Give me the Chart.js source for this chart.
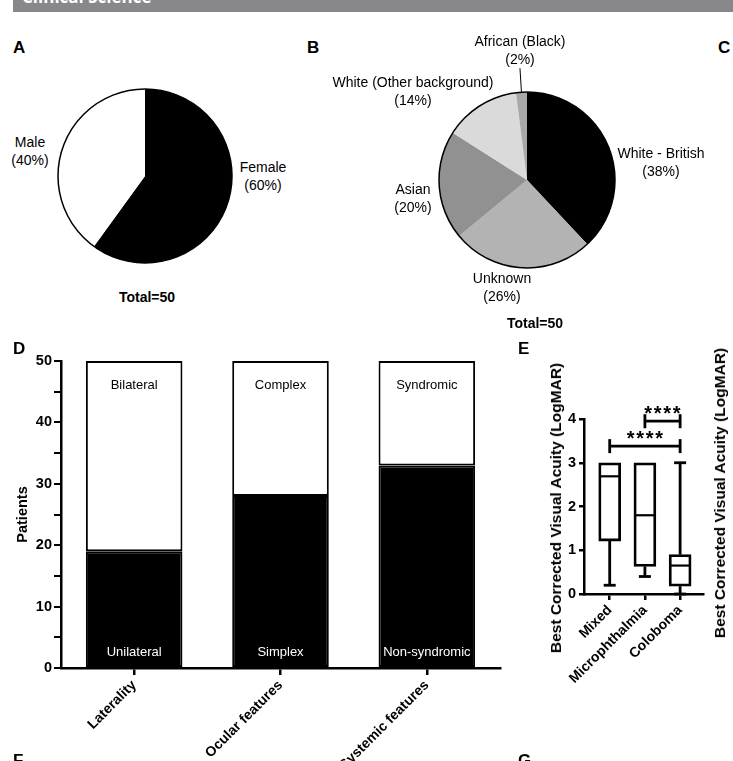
<!DOCTYPE html>
<html>
<head>
<meta charset="utf-8">
<script src="https://cdn.jsdelivr.net/npm/chart.js@4.4.1/dist/chart.umd.min.js"></script>
<style>
  body { margin: 0; background: #fff; width: 733px; height: 761px; overflow: hidden; position: relative;
         font-family: "Liberation Sans", Arial, sans-serif; color: #000; }
  canvas { position: absolute; }
  #banner { position: absolute; left: 13px; top: 0; width: 720px; height: 12px; background: #88888c; overflow: hidden; }
  #banner span { position: absolute; left: 9px; top: -12px; line-height: 17px; color: #fff; font-weight: bold;
                 font-size: 17px; font-family: "Open Sans", sans-serif; white-space: nowrap; }
  .lbl { position: absolute; transform: translate(-50%, -50%); text-align: center; font-size: 14px;
         line-height: 18px; white-space: nowrap; }
  .total { position: absolute; transform: translate(-50%, -50%); font-size: 14px; font-weight: bold; white-space: nowrap; }
  .letter { position: absolute; font-weight: bold; font-size: 17px; line-height: 17px; }
  .vtitle { position: absolute; font-weight: bold; font-size: 15.5px; white-space: nowrap;
            transform: translate(-50%, -50%) rotate(-90deg); }
</style>
</head>
<body>
<div id="banner"><span>Clinical Science</span></div>

<canvas id="pieA" width="180" height="180" style="left:55px;top:86px"></canvas>
<canvas id="pieB" width="240" height="240" style="left:407px;top:60px"></canvas>
<canvas id="barD" width="515" height="421" style="left:0;top:340px"></canvas>
<canvas id="boxE" width="200" height="300" style="left:520px;top:395px"></canvas>

<div class="letter" style="left:13px;top:39px">A</div>
<div class="letter" style="left:307px;top:39px">B</div>
<div class="letter" style="left:718px;top:39px">C</div>
<div class="letter" style="left:13px;top:340px">D</div>
<div class="letter" style="left:518px;top:340px">E</div>
<div class="letter" style="left:13px;top:752px">F</div>
<div class="letter" style="left:518px;top:752px">G</div>

<div class="vtitle" style="left:556px;top:508px">Best Corrected Visual Acuity (LogMAR)</div>
<div class="vtitle" style="left:720px;top:493px">Best Corrected Visual Acuity (LogMAR)</div>

<script>
// A - gender
const GENDER_LABELS = ["Female", "Male"];
const GENDER_COUNTS = [30, 20];

// B - ethnicity
const ETHNICITY_LABELS = ["White - British", "Unknown", "Asian", "White (Other background)", "African (Black)"];
const ETHNICITY_COUNTS = [19, 13, 10, 7, 1];

// D - clinical features
const FEATURE_CATEGORIES = ["Laterality", "Ocular features", "Systemic features"];
const LOWER_NAMES = ["Unilateral", "Simplex", "Non-syndromic"];
const LOWER_COUNTS = [19, 28, 33];
const UPPER_NAMES = ["Bilateral", "Complex", "Syndromic"];
const UPPER_COUNTS = [31, 22, 17];
const PATIENT_TICKS = [0, 10, 20, 30, 40, 50];

// E - visual acuity
const BCVA_GROUPS = ["Mixed", "Microphthalmia", "Coloboma"];
const BCVA_MIN = [0.2, 0.4, 0.0];
const BCVA_Q1 = [1.21, 0.63, 0.18];
const BCVA_MEDIAN = [2.69, 1.8, 0.65];
const BCVA_Q3 = [3.0, 3.0, 0.9];
const BCVA_MAX = [3.0, 3.0, 3.0];
const BCVA_TICKS = [0, 1, 2, 3, 4];
const SIG_PAIRS = [[0, 2], [1, 2]];
const SIG_LEVEL = [3.38, 3.95];
const SIG_MARKS = ["****", "****"];

Chart.defaults.color = "#000";
Chart.defaults.font.family = "'Liberation Sans', Arial, sans-serif";
Chart.defaults.animation = false;
Chart.defaults.events = [];
Chart.defaults.plugins.legend.display = false;
Chart.defaults.plugins.tooltip.enabled = false;

// where the pie labels sit on the page
const GENDER_LABEL_AT = [[263, 176], [30, 151]];
const ETHNICITY_LABEL_AT = [[661, 162], [502, 287], [413, 198], [413, 91], [520, 50]];

function addText(cls, html, x, y) {
  const d = document.createElement("div");
  d.className = cls;
  d.innerHTML = html;
  d.style.left = x + "px";
  d.style.top = y + "px";
  document.body.appendChild(d);
}

function pieLabels(names, counts, at, totalAt) {
  const total = counts.reduce((a, b) => a + b, 0);
  names.forEach((n, i) => {
    const pct = Math.round(counts[i] / total * 100);
    addText("lbl", n + "<br>(" + pct + "%)", at[i][0], at[i][1]);
  });
  addText("total", "Total=" + total, totalAt[0], totalAt[1]);
}

// outline round the pie, plus an optional leader line to a small slice
const pieOutline = {
  id: "pieOutline",
  afterDatasetsDraw(chart, args, opts) {
    const arcs = chart.getDatasetMeta(0).data;
    const a0 = arcs[0];
    const ctx = chart.ctx;
    ctx.save();
    ctx.strokeStyle = "#000";
    ctx.lineWidth = 1.5;
    ctx.beginPath();
    ctx.arc(a0.x, a0.y, a0.outerRadius, 0, Math.PI * 2);
    ctx.stroke();
    if (opts.leader != null) {
      const arc = arcs[opts.leader];
      const mid = (arc.startAngle + arc.endAngle) / 2;
      ctx.lineWidth = 1;
      ctx.beginPath();
      ctx.moveTo(arc.x + Math.cos(mid) * arc.outerRadius, arc.y + Math.sin(mid) * arc.outerRadius);
      ctx.lineTo(arc.x + Math.cos(mid) * (arc.outerRadius + 24), arc.y + Math.sin(mid) * (arc.outerRadius + 24));
      ctx.stroke();
    }
    ctx.restore();
  }
};

new Chart(document.getElementById("pieA"), {
  type: "pie",
  data: {
    labels: GENDER_LABELS,
    datasets: [{ data: GENDER_COUNTS, backgroundColor: ["#000", "#fff"], borderWidth: 0 }]
  },
  options: { responsive: false, layout: { padding: 3 }, plugins: { pieOutline: {} } },
  plugins: [pieOutline]
});
pieLabels(GENDER_LABELS, GENDER_COUNTS, GENDER_LABEL_AT, [147, 297]);

new Chart(document.getElementById("pieB"), {
  type: "pie",
  data: {
    labels: ETHNICITY_LABELS,
    datasets: [{
      data: ETHNICITY_COUNTS,
      backgroundColor: ["#000", "#b3b3b3", "#919191", "#dadada", "#a9a9a9"],
      borderWidth: 0
    }]
  },
  options: { responsive: false, layout: { padding: 32 }, plugins: { pieOutline: { leader: 4 } } },
  plugins: [pieOutline]
});
pieLabels(ETHNICITY_LABELS, ETHNICITY_COUNTS, ETHNICITY_LABEL_AT, [535, 323]);

// D - stacked bars with names written inside
const barNames = {
  id: "barNames",
  afterDatasetsDraw(chart) {
    const { ctx, scales: { x, y } } = chart;
    ctx.save();
    ctx.font = "13px 'Liberation Sans', Arial, sans-serif";
    ctx.textAlign = "center";
    ctx.textBaseline = "middle";
    FEATURE_CATEGORIES.forEach((c, i) => {
      const px = x.getPixelForValue(i);
      ctx.fillStyle = "#000";
      ctx.fillText(UPPER_NAMES[i], px, y.getPixelForValue(46));
      ctx.fillStyle = "#fff";
      ctx.fillText(LOWER_NAMES[i], px, y.getPixelForValue(2.6));
    });
    ctx.restore();
  }
};

new Chart(document.getElementById("barD"), {
  type: "bar",
  data: {
    labels: FEATURE_CATEGORIES,
    datasets: [
      { data: LOWER_COUNTS, backgroundColor: "#000", borderColor: "#000", borderWidth: 2 },
      { data: UPPER_COUNTS, backgroundColor: "#fff", borderColor: "#000", borderWidth: 2 }
    ]
  },
  options: {
    responsive: false,
    layout: { padding: { top: 21, right: 15, left: 0, bottom: 0 } },
    datasets: { bar: { categoryPercentage: 1, barPercentage: 0.66, borderSkipped: false } },
    scales: {
      x: {
        stacked: true,
        afterFit(s) { s.height = 93; },
        grid: { offset: false, drawOnChartArea: false, color: "#000", lineWidth: 2.5, tickLength: 7 },
        border: { color: "#000", width: 2.5 },
        ticks: { autoSkip: false, maxRotation: 45, minRotation: 45, padding: 2,
                 font: { size: 14, weight: "bold" } }
      },
      y: {
        stacked: true,
        min: 0, max: 50,
        afterFit(s) { s.width = 61; },
        afterBuildTicks(s) {
          const t = [];
          for (let v = 0; v <= 50; v += 5) t.push({ value: v });
          s.ticks = t;
        },
        grid: { drawOnChartArea: false, color: "#000", lineWidth: 2, tickLength: 7 },
        border: { color: "#000", width: 2.5 },
        ticks: { padding: 2, font: { size: 14.5, weight: "bold" },
                 callback: v => PATIENT_TICKS.includes(v) ? v : "" },
        title: { display: true, text: "Patients", font: { size: 14.5, weight: "bold" },
                 padding: { top: 14, bottom: 0 } }
      }
    }
  },
  plugins: [barNames]
});

// E - box plot: boxes are floating bars, whiskers/medians/brackets drawn on the scales
const boxExtras = {
  id: "boxExtras",
  afterDatasetsDraw(chart) {
    const { ctx, scales: { x, y } } = chart;
    const seg = (x1, y1, x2, y2) => { ctx.beginPath(); ctx.moveTo(x1, y1); ctx.lineTo(x2, y2); ctx.stroke(); };
    ctx.save();
    ctx.strokeStyle = "#000";
    ctx.lineCap = "butt";
    BCVA_GROUPS.forEach((g, i) => {
      const px = x.getPixelForValue(i + 1);
      ctx.lineWidth = 2.8;
      if (BCVA_MIN[i] < BCVA_Q1[i]) {
        seg(px, y.getPixelForValue(BCVA_Q1[i]), px, y.getPixelForValue(BCVA_MIN[i]));
        seg(px - 6, y.getPixelForValue(BCVA_MIN[i]), px + 6, y.getPixelForValue(BCVA_MIN[i]));
      }
      if (BCVA_MAX[i] > BCVA_Q3[i]) {
        seg(px, y.getPixelForValue(BCVA_Q3[i]), px, y.getPixelForValue(BCVA_MAX[i]));
        seg(px - 6, y.getPixelForValue(BCVA_MAX[i]), px + 6, y.getPixelForValue(BCVA_MAX[i]));
      }
      ctx.lineWidth = 2.2;
      seg(px - 10, y.getPixelForValue(BCVA_MEDIAN[i]), px + 10, y.getPixelForValue(BCVA_MEDIAN[i]));
    });
    ctx.font = "bold 20px 'Liberation Sans', Arial, sans-serif";
    ctx.textAlign = "center";
    ctx.textBaseline = "alphabetic";
    ctx.fillStyle = "#000";
    SIG_PAIRS.forEach((p, k) => {
      const x1 = x.getPixelForValue(p[0] + 1), x2 = x.getPixelForValue(p[1] + 1);
      const py = y.getPixelForValue(SIG_LEVEL[k]);
      ctx.lineWidth = 2.8;
      seg(x1, py, x2, py);
      seg(x1, py - 7, x1, py + 7);
      seg(x2, py - 7, x2, py + 7);
      const marks = SIG_MARKS[k].split("");
      const cx = (x1 + x2) / 2, step = 9.5;
      marks.forEach((m, j) => {
        ctx.fillText(m, cx + (j - (marks.length - 1) / 2) * step, py - 1.5);
      });
    });
    ctx.restore();
  }
};

new Chart(document.getElementById("boxE"), {
  type: "bar",
  data: {
    datasets: [{
      data: BCVA_GROUPS.map((g, i) => ({ x: i + 1, y: [BCVA_Q1[i], BCVA_Q3[i]] })),
      backgroundColor: "#fff",
      borderColor: "#000",
      borderWidth: 2.8,
      borderSkipped: false,
      barThickness: 22
    }]
  },
  options: {
    responsive: false,
    layout: { padding: { top: 24, right: 17, left: 0, bottom: 0 } },
    scales: {
      x: {
        type: "linear",
        min: 0.27, max: 3.65,
        offset: false,
        afterFit(s) { s.height = 101; },
        afterBuildTicks(s) { s.ticks = BCVA_GROUPS.map((g, i) => ({ value: i + 1 })); },
        grid: { offset: false, drawOnChartArea: false, color: "#000", lineWidth: 2.5, tickLength: 6 },
        border: { color: "#000", width: 2.5 },
        ticks: { autoSkip: false, maxRotation: 45, minRotation: 45, padding: 2,
                 font: { size: 14, weight: "bold" },
                 callback: v => BCVA_GROUPS[v - 1] }
      },
      y: {
        min: 0, max: 4,
        afterFit(s) { s.width = 64; },
        afterBuildTicks(s) { s.ticks = BCVA_TICKS.map(v => ({ value: v })); },
        grid: { drawOnChartArea: false, color: "#000", lineWidth: 2.5, tickLength: 5 },
        border: { color: "#000", width: 2.5 },
        ticks: { padding: 3, font: { size: 14.5, weight: "bold" } }
      }
    }
  },
  plugins: [boxExtras]
});
</script>
</body>
</html>
